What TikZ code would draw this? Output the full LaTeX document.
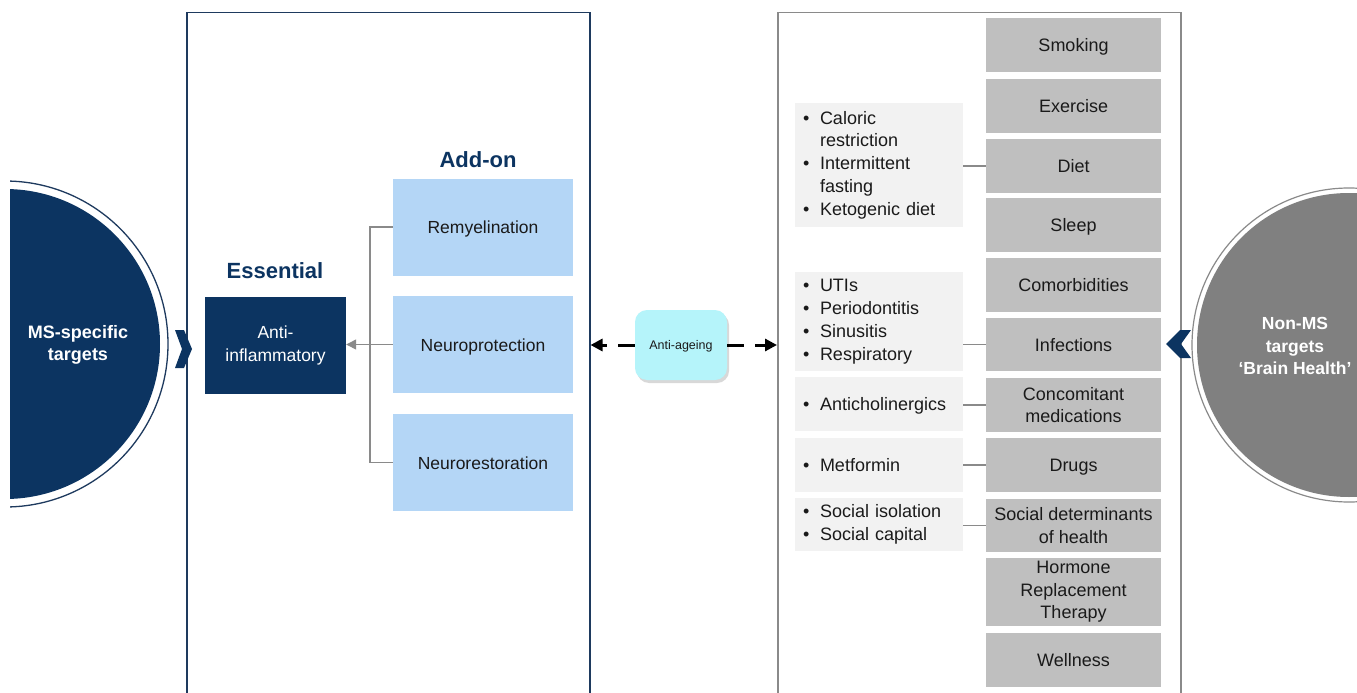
\documentclass[tikz,border=0pt]{standalone}
\usepackage{fontspec}
\setmainfont{Liberation Sans}
\usetikzlibrary{arrows.meta,shadows,calc}
\definecolor{navy}{HTML}{0C3461}
\definecolor{navyline}{HTML}{1E3A5E}
\definecolor{lblue}{HTML}{B4D6F6}
\definecolor{cyanbox}{HTML}{B5F4FA}
\definecolor{gbox}{HTML}{BFBFBF}
\definecolor{lgbox}{HTML}{F2F2F2}
\definecolor{gcirc}{HTML}{808080}
\definecolor{gline}{HTML}{8A8A8A}
\definecolor{txt}{HTML}{1A1A1A}
\newcommand\bitem[1]{\makebox[17pt][l]{\textbullet}#1}
\newcommand\bcont[1]{\hspace*{17pt}#1}
\tikzset{
  panelL/.style={draw=navyline, line width=1.5pt, minimum width=403pt, minimum height=720pt, anchor=north west, inner sep=0pt},
  panelR/.style={draw=gline, line width=1.5pt, minimum width=403pt, minimum height=720pt, anchor=north west, inner sep=0pt},
  heading/.style={text=navy, font=\fontsize{22}{26}\selectfont\bfseries},
  oneline/.style={text height=13pt, text depth=0pt},
  bluebox/.style={fill=lblue, minimum width=180pt, minimum height=97pt, inner sep=0pt, text=txt, font=\fontsize{17.5}{22}\selectfont, oneline},
  navybox/.style={fill=navy, minimum width=141pt, minimum height=97pt, inner sep=0pt, text=white, align=center, font=\fontsize{17.5}{23}\selectfont},
  graybox/.style={fill=gbox, minimum width=175pt, minimum height=54pt, inner sep=0pt, text=txt, align=center, font=\fontsize{18}{22.5}\selectfont},
  bulletbox/.style={fill=lgbox, minimum width=168pt, text width=152pt, inner xsep=8pt, inner ysep=0pt, align=left, text=txt, font=\fontsize{18}{22.8}\selectfont},
  link/.style={draw=gline, line width=1.3pt},
  dasharrow/.style={draw=black, line width=3pt, dash pattern=on 17pt off 11pt, -{Triangle[length=12pt,width=12pt]}},
  circtext/.style={text=white, align=center, font=\fontsize{17.5}{22.5}\selectfont\bfseries},
}
\begin{document}
\begin{tikzpicture}[x=1pt,y=-1pt]
\useasboundingbox (0,0) rectangle (1357,693);
\clip (0,0) rectangle (1357,693);
\fill[white] (0,0) rectangle (1357,693);

% panels
\node[panelL] (lp) at (186,12) {};
\node[panelR] (rp) at (777,12) {};

% left circle
\begin{scope}
\clip (10,0) rectangle (1357,693);
\fill[navy] (5,344) circle[radius=155];
\draw[navyline, line width=1.3pt] (5,344) circle[radius=163];
\end{scope}
\node[circtext, font=\fontsize{18}{22.5}\selectfont\bfseries] (ms) at (78,345) {MS-specific\\targets};
\fill[navy] (175,330) -- (184,330) -- (192,349) -- (184,368) -- (175,368) -- (182,349) -- cycle;

% right circle
\fill[gcirc] (1349,345) circle[radius=152];
\draw[gline, line width=1.2pt] (1349,345) circle[radius=157];
\node[circtext] (nms) at (1295,346) {Non-MS\\targets\\‘Brain Health’};
\fill[navy] (1180,330) -- (1191,330) -- (1181,344) -- (1191,358) -- (1180,358) -- (1166,344) -- cycle;

% left panel content
\node[heading] (ess) at (275,271) {Essential};
\node[heading] (addon) at (478,160) {Add-on};
\node[navybox] (ai) at (275.5,345) {Anti-\\inflammatory};
\node[bluebox] (rem) at (483,227) {Remyelination};
\node[bluebox] (np) at (483,344.5) {Neuroprotection};
\node[bluebox] (nr) at (483,462.5) {Neurorestoration};
\coordinate (bx) at (370,0);
\draw[link] (rem.west) -- (rem.west -| bx) -- (nr.west -| bx) -- (nr.west);
\draw[link, -{Triangle[length=10pt,width=10pt]}] (np.west) -- (np.west -| ai.east);

% anti-ageing
\node[fill=cyanbox, rounded corners=12pt, minimum width=92pt, minimum height=70pt, inner sep=0pt,
      drop shadow={opacity=0.3, shadow xshift=2pt, shadow yshift=-3pt},
      text height=9pt, text depth=0pt,
      font=\fontsize{12.5}{15}\selectfont, text=txt] (aa) at (681,345) {Anti-ageing};
\draw[dasharrow] (aa.west) -- (aa.west -| lp.east);
\draw[dasharrow] (aa.east) -- (aa.east -| rp.west);

% right boxes
\node[graybox, oneline] (smk) at (1073.5,45) {Smoking};
\node[graybox, oneline] (exe) at (1073.5,106) {Exercise};
\node[graybox, oneline] (diet) at (1073.5,166) {Diet};
\node[graybox, oneline] (slp) at (1073.5,225) {Sleep};
\node[graybox, oneline] (com) at (1073.5,285) {Comorbidities};
\node[graybox, oneline, minimum height=53pt] (inf) at (1073.5,344.5) {Infections};
\node[graybox] (con) at (1073.5,405) {Concomitant\\medications};
\node[graybox, oneline] (drg) at (1073.5,465) {Drugs};
\node[graybox, minimum height=53pt] (soc) at (1073.5,525.5) {Social determinants\\of health};
\node[graybox, minimum height=68pt] (hrt) at (1073.5,592) {Hormone\\Replacement\\Therapy};
\node[graybox, oneline] (wel) at (1073.5,660) {Wellness};

% bullet boxes
\node[bulletbox, minimum height=124pt] (dietb) at (879,165) {\bitem{Caloric}\\\bcont{restriction}\\\bitem{Intermittent}\\\bcont{fasting}\\\bitem{Ketogenic diet}};
\node[bulletbox, minimum height=99pt] (infb) at (879,321.5) {\bitem{UTIs}\\\bitem{Periodontitis}\\\bitem{Sinusitis}\\\bitem{Respiratory}};
\node[bulletbox, minimum height=54pt, oneline] (conb) at (879,404) {\bitem{Anticholinergics}};
\node[bulletbox, minimum height=54pt, oneline] (drgb) at (879,465) {\bitem{Metformin}};
\node[bulletbox, minimum height=53pt] (socb) at (879,524.5) {\bitem{Social isolation}\\\bitem{Social capital}};

\draw[link] (diet.west) -- (diet.west -| dietb.east);
\draw[link] (inf.west) -- (inf.west -| infb.east);
\draw[link] (con.west) -- (con.west -| conb.east);
\draw[link] (drg.west) -- (drg.west -| drgb.east);
\draw[link] (soc.west) -- (soc.west -| socb.east);
\end{tikzpicture}
\end{document}
